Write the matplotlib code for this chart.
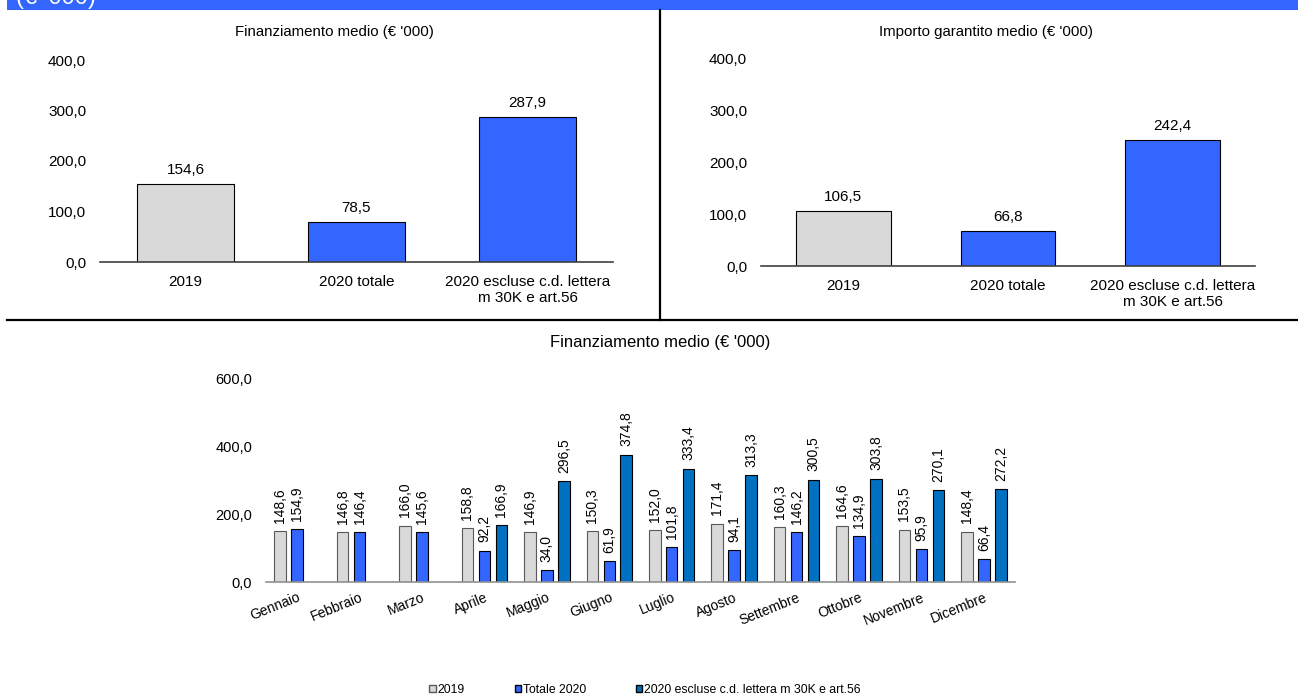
import numpy as np
import matplotlib
matplotlib.use('Agg')
from matplotlib import pyplot as plt
from matplotlib.patches import Patch, Rectangle
from matplotlib.lines import Line2D

plt.rcParams['font.family'] = ['Liberation Sans', 'DejaVu Sans']

# dati
cat_top = ['2019', '2020 totale', '2020 escluse c.d. lettera\nm 30K e art.56']
fin_medio = [154.6, 78.5, 287.9]
imp_garantito = [106.5, 66.8, 242.4]

mesi = ['Gennaio', 'Febbraio', 'Marzo', 'Aprile', 'Maggio', 'Giugno', 'Luglio',
        'Agosto', 'Settembre', 'Ottobre', 'Novembre', 'Dicembre']
v2019 = [148.6, 146.8, 166.0, 158.8, 146.9, 150.3, 152.0, 171.4, 160.3, 164.6, 153.5, 148.4]
tot2020 = [154.9, 146.4, 145.6, 92.2, 34.0, 61.9, 101.8, 94.1, 146.2, 134.9, 95.9, 66.4]
escl2020 = [None, None, None, 166.9, 296.5, 374.8, 333.4, 313.3, 300.5, 303.8, 270.1, 272.2]
legenda = ['2019', 'Totale 2020', '2020 escluse c.d. lettera m 30K e art.56']

GRIGIO = '#D9D9D9'
BLU = '#3366FF'
BLU_SCURO = '#0070C0'


def fmt(v):
    return f'{v:.1f}'.replace('.', ',')


W, H = 1298, 698
fig = plt.figure(figsize=(W / 100, H / 100), dpi=100)


def px_axes(x0, x1, ybot, ytop):
    return fig.add_axes([x0 / W, 1 - ybot / H, (x1 - x0) / W, (ybot - ytop) / H])


def stile(ax, ymax, step, col_base, fs):
    ax.set_ylim(0, ymax)
    ax.set_yticks(np.arange(0, ymax + 1, step))
    ax.set_yticklabels([fmt(t) for t in np.arange(0, ymax + 1, step)], fontsize=fs)
    for s in ['top', 'right', 'left']:
        ax.spines[s].set_visible(False)
    ax.spines['bottom'].set_color(col_base)
    ax.spines['bottom'].set_linewidth(1.2)
    ax.tick_params(axis='both', length=0)
    ax.tick_params(axis='y', pad=10)
    ax.set_facecolor('none')


# banner in alto
fig.add_artist(Rectangle((7 / W, 1 - 10 / H), 1, 10 / H, transform=fig.transFigure,
                         facecolor=BLU, edgecolor='none'))
fig.text(16 / W, 1 - 9 / H, "(€ '000)", color='white', fontsize=17, ha='left', va='bottom')

# linee di separazione
fig.add_artist(Line2D([660 / W, 660 / W], [1 - 10 / H, 1 - 320 / H], color='black', lw=1.6))
fig.add_artist(Line2D([7 / W, 1], [1 - 320 / H, 1 - 320 / H], color='black', lw=1.6))

# grafici in alto
x = np.arange(3)
colori_top = [GRIGIO, BLU, BLU]
for (x0, x1, yb, yt, vals, titolo, w, xt) in [
        (100, 613, 262, 60, fin_medio, "Finanziamento medio (€ '000)", 0.57, 334),
        (761, 1255, 266, 58, imp_garantito, "Importo garantito medio (€ '000)", 0.576, 986)]:
    ax = px_axes(x0, x1, yb, yt)
    ax.bar(x, vals, width=w, color=colori_top, edgecolor='black', linewidth=0.8)
    stile(ax, 400, 100, '#404040', 11)
    ax.set_xlim(-0.5, 2.5)
    ax.set_xticks(x)
    ax.set_xticklabels(cat_top, fontsize=11, linespacing=1.18)
    ax.tick_params(axis='x', pad=9.5)
    for xi, v in zip(x, vals):
        ax.annotate(fmt(v), (xi, v), xytext=(0, 5), textcoords='offset points',
                    ha='center', va='bottom', fontsize=11)
    fig.text(xt / W, 1 - 32 / H, titolo, fontsize=10.8, ha='center', va='center')

# grafico mensile
ax = px_axes(266, 1015, 582, 378)
xm = np.arange(len(mesi))
bw = 0.185
off = 0.272
ax.bar(xm - off, v2019, width=bw, color=GRIGIO, edgecolor='#595959', linewidth=0.8)
ax.bar(xm, tot2020, width=bw, color=BLU, edgecolor='black', linewidth=0.8)
xe = [xi + off for xi, v in zip(xm, escl2020) if v is not None]
ve = [v for v in escl2020 if v is not None]
ax.bar(xe, ve, width=bw, color=BLU_SCURO, edgecolor='black', linewidth=0.8)
stile(ax, 600, 200, '#909090', 10.5)
ax.set_xlim(-0.5, 11.5)
ax.set_xticks(xm)
ax.set_xticklabels(mesi, fontsize=10, rotation=22, ha='right', va='top',
                   rotation_mode='anchor')
ax.tick_params(axis='x', pad=6)
for xs, vs in [(xm - off, v2019), (xm, tot2020), (xe, ve)]:
    for xi, v in zip(xs, vs):
        ax.annotate(fmt(v), (xi, v), xytext=(0, 6), textcoords='offset points',
                    ha='center', va='bottom', fontsize=10, rotation=90)
fig.text(660 / W, 1 - 342 / H, "Finanziamento medio (€ '000)", fontsize=12,
         ha='center', va='center')

handles = [Patch(facecolor=GRIGIO, edgecolor='#595959'),
           Patch(facecolor=BLU, edgecolor='black'),
           Patch(facecolor=BLU_SCURO, edgecolor='black')]
fig.legend(handles, legenda, loc='center', bbox_to_anchor=(645 / W, 1 - 690 / H), ncol=3,
           frameon=False, fontsize=8.8, handlelength=0.5, handleheight=0.5,
           handletextpad=0.15, columnspacing=4.1, borderpad=0)

fig.savefig('out.png', dpi=100)
